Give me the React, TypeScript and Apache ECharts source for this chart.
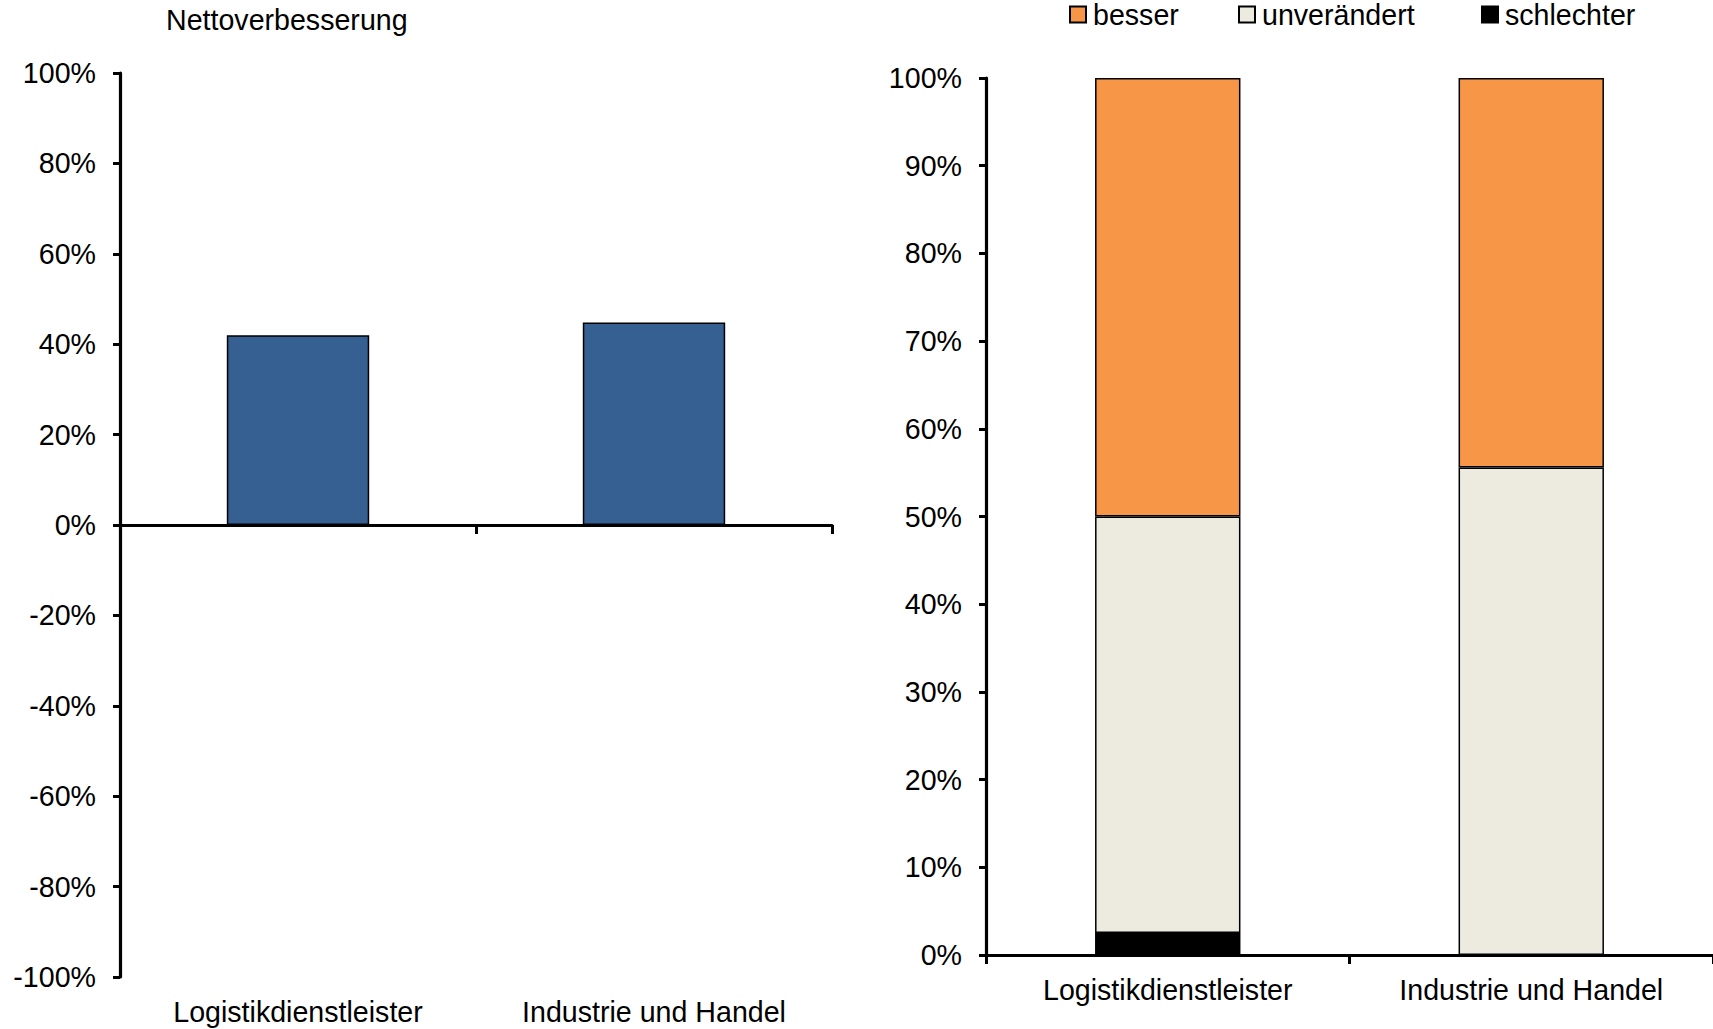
import React, { useEffect, useRef } from "react";
import * as echarts from "echarts";

const categories = ["Logistikdienstleister", "Industrie und Handel"];
const netImprovement = [42, 44.8];
const besser = [50, 44.4];
const unveraendert = [47.5, 55.6];
const schlechter = [2.5, 0];

const FONT = "Liberation Sans, Arial, Helvetica, sans-serif";
const FS = 28.6;

export default function App() {
  const ref = useRef<HTMLDivElement>(null);

  useEffect(() => {
    if (!ref.current) return;
    const chart = echarts.init(ref.current, undefined, { renderer: "svg" });

    const axisLine = { show: true, lineStyle: { color: "#000", width: 3.2 } };
    const tickStyle = { color: "#000", width: 3 };
    const labelStyle = { color: "#000", fontSize: FS, fontFamily: FONT };

    const legendBase = (name: string, left: number) => ({
      data: [name],
      left,
      top: 0,
      padding: 0,
      itemWidth: 16,
      itemHeight: 16,
      icon: "rect",
      textStyle: { color: "#000", fontSize: FS, fontFamily: FONT, padding: [0, 0, 0, 2] },
    });

    const noZero = (arr: number[]) => arr.map((v) => (v === 0 ? null : v));

    chart.setOption({
      animation: false,
      backgroundColor: "#fff",
      title: {
        text: "Nettoverbesserung",
        left: 166,
        top: 5,
        padding: 0,
        textStyle: { color: "#000", fontSize: FS, fontWeight: "normal", fontFamily: FONT },
      },
      legend: [
        legendBase("besser", 1069),
        legendBase("unverändert", 1238),
        legendBase("schlechter", 1481),
      ],
      grid: [
        { left: 120, top: 73, width: 712, height: 904, containLabel: false },
        { left: 986, top: 78, width: 730, height: 877, containLabel: false },
      ],
      xAxis: [
        {
          type: "category",
          gridIndex: 0,
          data: categories,
          axisLine: { ...axisLine, onZero: true },
          axisTick: { show: true, interval: 0, length: 9, lineStyle: tickStyle },
          axisLabel: { show: false },
          splitLine: { show: false },
        },
        {
          type: "category",
          gridIndex: 0,
          position: "bottom",
          data: categories,
          axisLine: { show: false, onZero: false },
          axisTick: { show: false },
          axisLabel: { ...labelStyle, interval: 0, margin: 20 },
          splitLine: { show: false },
        },
        {
          type: "category",
          gridIndex: 1,
          data: categories,
          axisLine,
          axisTick: { show: true, interval: 0, length: 9, lineStyle: tickStyle },
          axisLabel: { ...labelStyle, interval: 0, margin: 20 },
          splitLine: { show: false },
        },
      ],
      yAxis: [
        {
          type: "value",
          gridIndex: 0,
          min: -100,
          max: 100,
          interval: 20,
          axisLine,
          axisTick: { show: true, length: 7, lineStyle: tickStyle },
          axisLabel: { ...labelStyle, margin: 24, formatter: (v: number) => `${v}%` },
          splitLine: { show: false },
        },
        {
          type: "value",
          gridIndex: 1,
          min: 0,
          max: 100,
          interval: 10,
          axisLine,
          axisTick: { show: true, length: 7, lineStyle: tickStyle },
          axisLabel: { ...labelStyle, margin: 24, formatter: (v: number) => `${v}%` },
          splitLine: { show: false },
        },
      ],
      series: [
        {
          name: "Nettoverbesserung",
          type: "bar",
          xAxisIndex: 0,
          yAxisIndex: 0,
          data: netImprovement,
          barWidth: "40%",
          itemStyle: { color: "#366092", borderColor: "#000", borderWidth: 1.5 },
        },
        {
          name: "schlechter",
          type: "bar",
          xAxisIndex: 2,
          yAxisIndex: 1,
          stack: "total",
          data: noZero(schlechter),
          barWidth: "40%",
          itemStyle: { color: "#000", borderColor: "#000", borderWidth: 1.5 },
        },
        {
          name: "unverändert",
          type: "bar",
          xAxisIndex: 2,
          yAxisIndex: 1,
          stack: "total",
          data: unveraendert,
          barWidth: "40%",
          itemStyle: { color: "#EDEAE0", borderColor: "#000", borderWidth: 1.5 },
        },
        {
          name: "besser",
          type: "bar",
          xAxisIndex: 2,
          yAxisIndex: 1,
          stack: "total",
          data: besser,
          barWidth: "40%",
          itemStyle: { color: "#F79646", borderColor: "#000", borderWidth: 1.5 },
        },
      ],
    });

    return () => chart.dispose();
  }, []);

  return (
    <div
      ref={ref}
      style={{ position: "absolute", left: 0, top: 0, width: 1713, height: 1029, background: "#fff" }}
    />
  );
}
